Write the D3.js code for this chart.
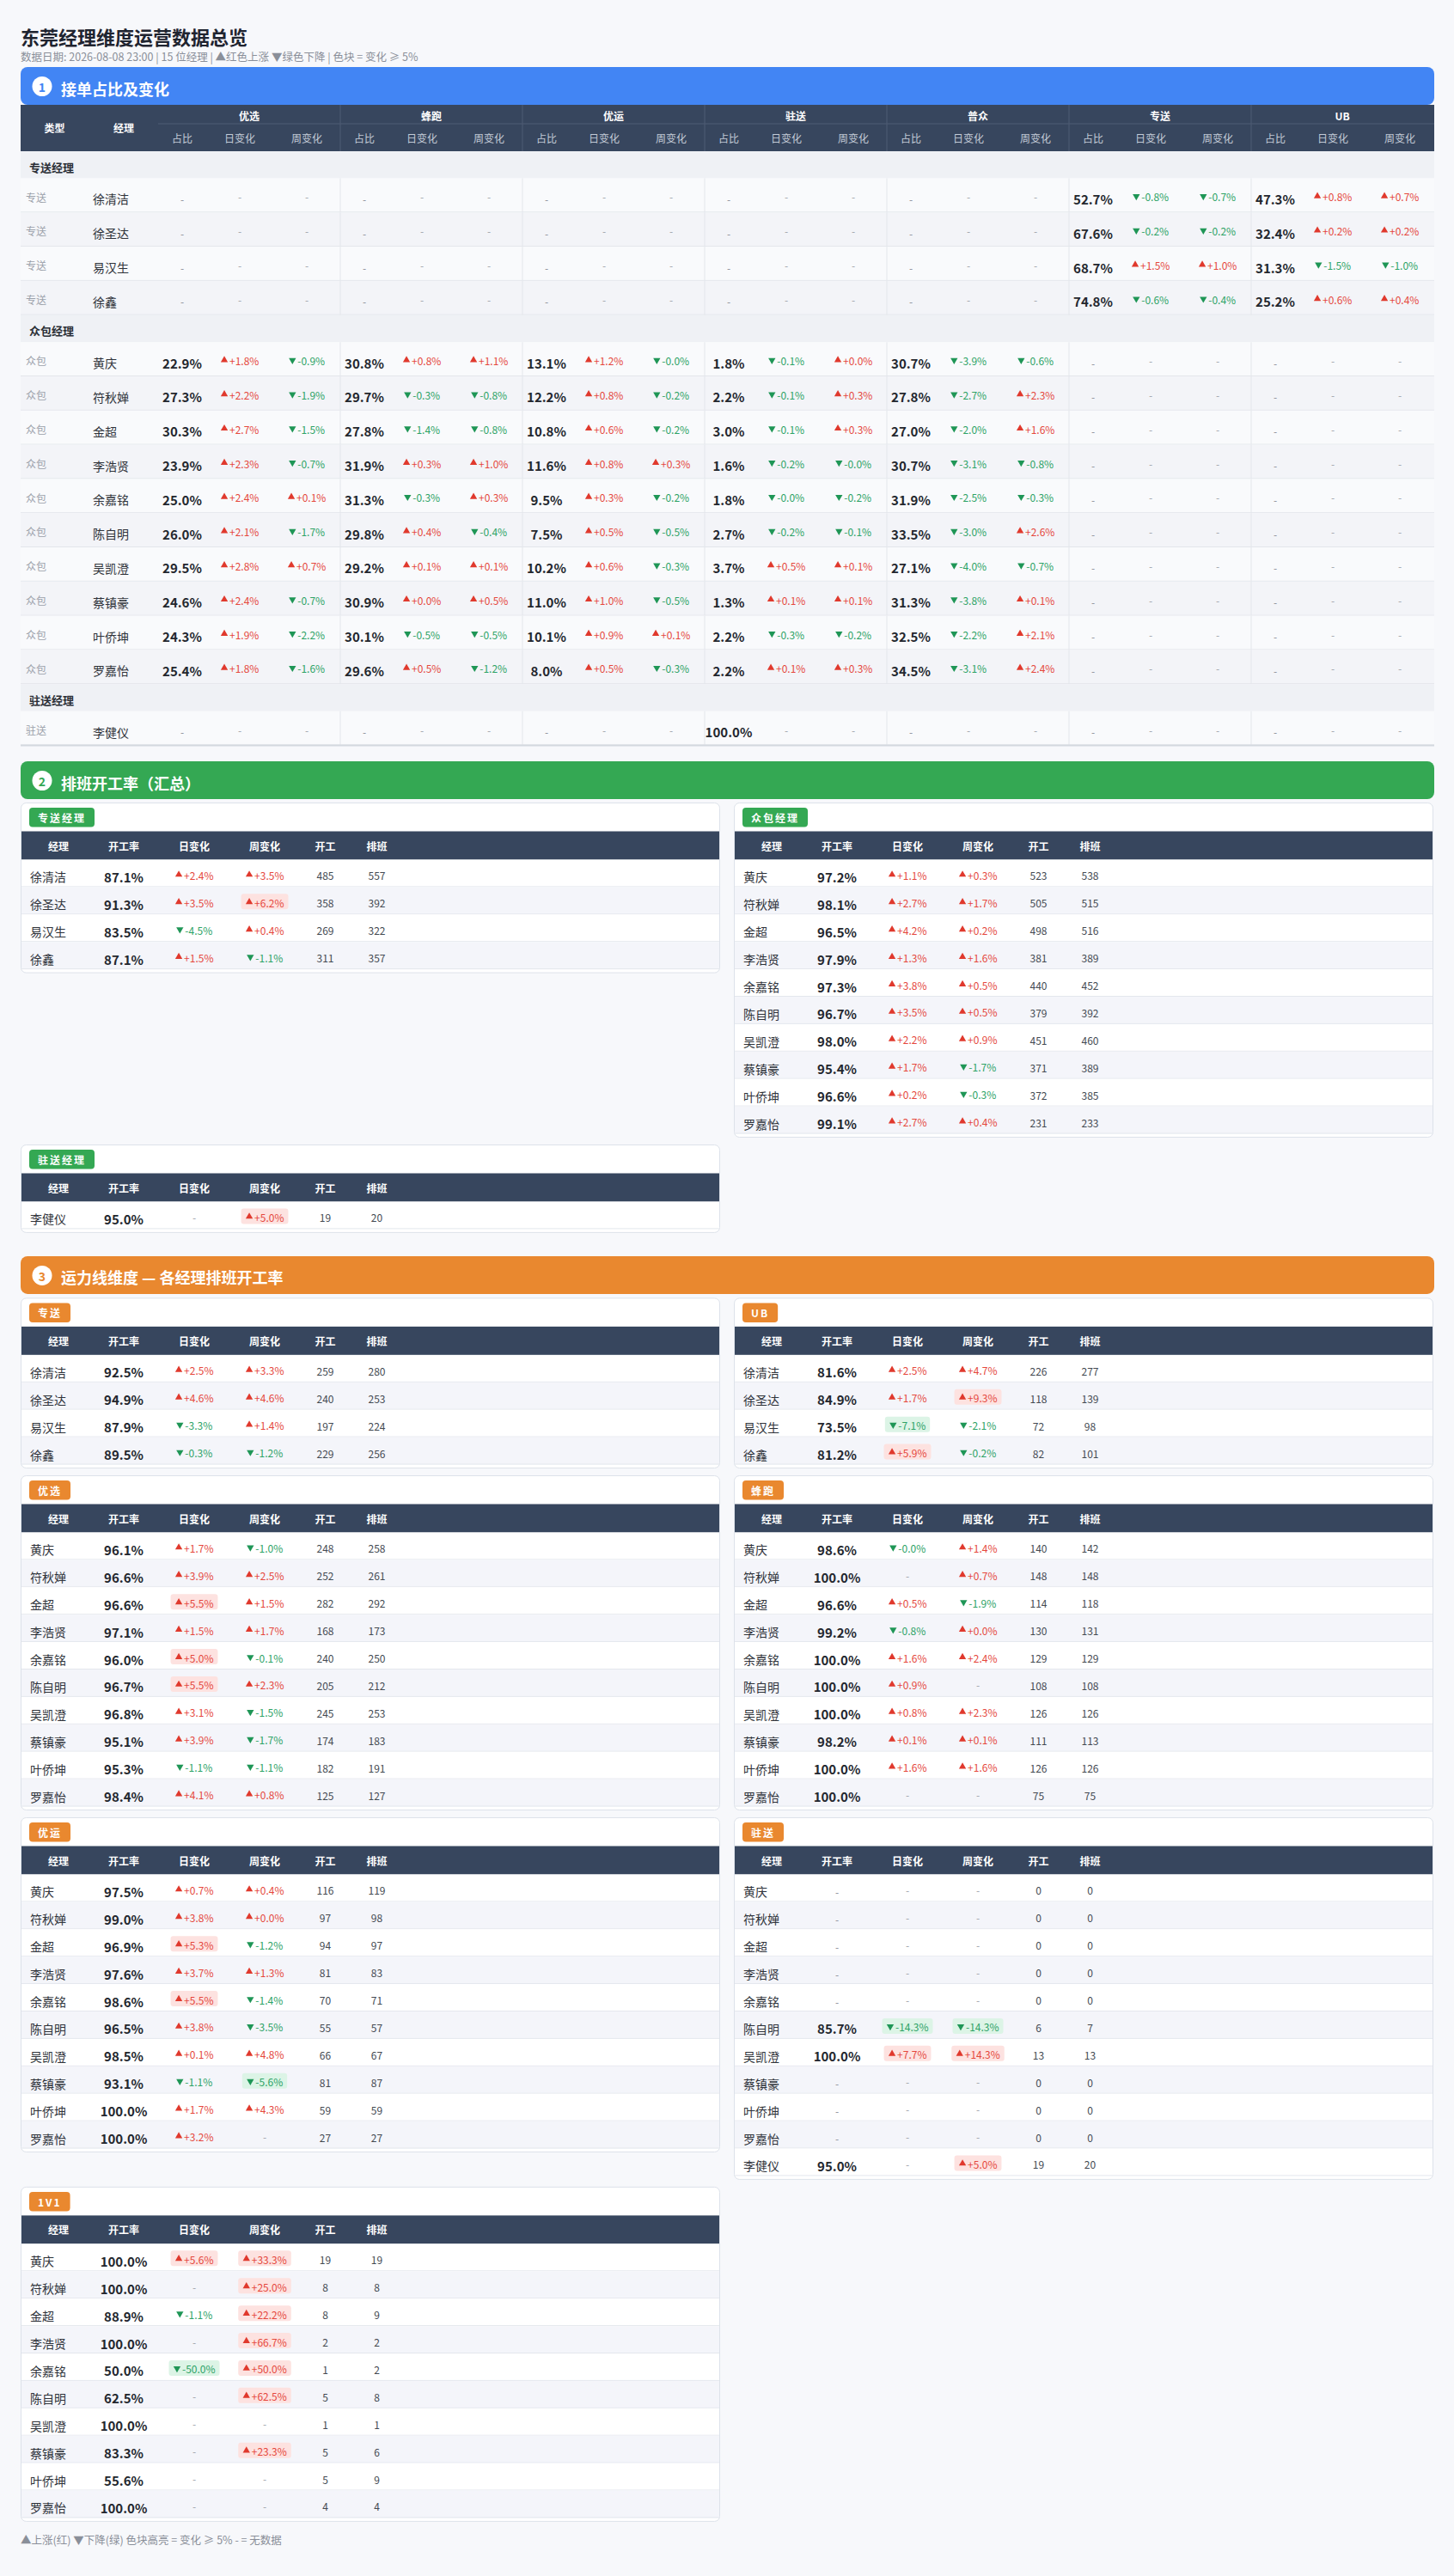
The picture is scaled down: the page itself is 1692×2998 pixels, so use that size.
<!DOCTYPE html>
<html>
<head>
<meta charset="utf-8">
<script src="https://cdn.jsdelivr.net/npm/d3@7"></script>
<style>
  body { margin: 0; background: #f7f8fb; }
  svg { display: block; font-family: "Noto Sans CJK SC", "Noto Sans", sans-serif; }
</style>
</head>
<body>
<script>
// ---------- data ----------
const zsNames = ['徐清洁', '徐圣达', '易汉生', '徐鑫'];
const zbNames = ['黄庆', '符秋婵', '金超', '李浩贤', '余嘉铭', '陈自明', '吴凯澄', '蔡镇豪', '叶侨坤', '罗嘉怡'];
const zhuNames = ['李健仪'];
const zhuLineNames = [...zbNames, '李健仪'];

const lineGroups = ['优选', '蜂跑', '优运', '驻送', '普众', '专送', 'UB'];
const subCols = ['占比', '日变化', '周变化'];
const cardCols = ['经理', '开工率', '日变化', '周变化', '开工', '排班'];

// section 1: [占比, 日变化, 周变化] for the 15 managers (4 专送, 10 众包, 1 驻送); null = no data
const yxRows = [[null, null, null], [null, null, null], [null, null, null], [null, null, null],
  [22.9, 1.8, -0.9], [27.3, 2.2, -1.9], [30.3, 2.7, -1.5], [23.9, 2.3, -0.7], [25.0, 2.4, 0.1],
  [26.0, 2.1, -1.7], [29.5, 2.8, 0.7], [24.6, 2.4, -0.7], [24.3, 1.9, -2.2], [25.4, 1.8, -1.6],
  [null, null, null]];
const fpRows = [[null, null, null], [null, null, null], [null, null, null], [null, null, null],
  [30.8, 0.8, 1.1], [29.7, -0.3, -0.8], [27.8, -1.4, -0.8], [31.9, 0.3, 1.0], [31.3, -0.3, 0.3],
  [29.8, 0.4, -0.4], [29.2, 0.1, 0.1], [30.9, 0.0, 0.5], [30.1, -0.5, -0.5], [29.6, 0.5, -1.2],
  [null, null, null]];
const yyRows = [[null, null, null], [null, null, null], [null, null, null], [null, null, null],
  [13.1, 1.2, -0.0], [12.2, 0.8, -0.2], [10.8, 0.6, -0.2], [11.6, 0.8, 0.3], [9.5, 0.3, -0.2],
  [7.5, 0.5, -0.5], [10.2, 0.6, -0.3], [11.0, 1.0, -0.5], [10.1, 0.9, 0.1], [8.0, 0.5, -0.3],
  [null, null, null]];
const zhuRows = [[null, null, null], [null, null, null], [null, null, null], [null, null, null],
  [1.8, -0.1, 0.0], [2.2, -0.1, 0.3], [3.0, -0.1, 0.3], [1.6, -0.2, -0.0], [1.8, -0.0, -0.2],
  [2.7, -0.2, -0.1], [3.7, 0.5, 0.1], [1.3, 0.1, 0.1], [2.2, -0.3, -0.2], [2.2, 0.1, 0.3],
  [100.0, null, null]];
const pzRows = [[null, null, null], [null, null, null], [null, null, null], [null, null, null],
  [30.7, -3.9, -0.6], [27.8, -2.7, 2.3], [27.0, -2.0, 1.6], [30.7, -3.1, -0.8], [31.9, -2.5, -0.3],
  [33.5, -3.0, 2.6], [27.1, -4.0, -0.7], [31.3, -3.8, 0.1], [32.5, -2.2, 2.1], [34.5, -3.1, 2.4],
  [null, null, null]];
const zsRows = [[52.7, -0.8, -0.7], [67.6, -0.2, -0.2], [68.7, 1.5, 1.0], [74.8, -0.6, -0.4],
  [null, null, null], [null, null, null], [null, null, null], [null, null, null], [null, null, null],
  [null, null, null], [null, null, null], [null, null, null], [null, null, null], [null, null, null],
  [null, null, null]];
const ubRows = [[47.3, 0.8, 0.7], [32.4, 0.2, 0.2], [31.3, -1.5, -1.0], [25.2, 0.6, 0.4],
  [null, null, null], [null, null, null], [null, null, null], [null, null, null], [null, null, null],
  [null, null, null], [null, null, null], [null, null, null], [null, null, null], [null, null, null],
  [null, null, null]];

// sections 2 and 3: [开工率, 日变化, 周变化, 开工, 排班]
const s2Zs = [[87.1, 2.4, 3.5, 485, 557], [91.3, 3.5, 6.2, 358, 392], [83.5, -4.5, 0.4, 269, 322], [87.1, 1.5, -1.1, 311, 357]];
const s2Zb = [[97.2, 1.1, 0.3, 523, 538], [98.1, 2.7, 1.7, 505, 515], [96.5, 4.2, 0.2, 498, 516], [97.9, 1.3, 1.6, 381, 389],
  [97.3, 3.8, 0.5, 440, 452], [96.7, 3.5, 0.5, 379, 392], [98.0, 2.2, 0.9, 451, 460], [95.4, 1.7, -1.7, 371, 389],
  [96.6, 0.2, -0.3, 372, 385], [99.1, 2.7, 0.4, 231, 233]];
const s2Zhu = [[95.0, null, 5.0, 19, 20]];

const s3Zs = [[92.5, 2.5, 3.3, 259, 280], [94.9, 4.6, 4.6, 240, 253], [87.9, -3.3, 1.4, 197, 224], [89.5, -0.3, -1.2, 229, 256]];
const s3Ub = [[81.6, 2.5, 4.7, 226, 277], [84.9, 1.7, 9.3, 118, 139], [73.5, -7.1, -2.1, 72, 98], [81.2, 5.9, -0.2, 82, 101]];
const s3Yx = [[96.1, 1.7, -1.0, 248, 258], [96.6, 3.9, 2.5, 252, 261], [96.6, 5.5, 1.5, 282, 292], [97.1, 1.5, 1.7, 168, 173],
  [96.0, 5.0, -0.1, 240, 250], [96.7, 5.5, 2.3, 205, 212], [96.8, 3.1, -1.5, 245, 253], [95.1, 3.9, -1.7, 174, 183],
  [95.3, -1.1, -1.1, 182, 191], [98.4, 4.1, 0.8, 125, 127]];
const s3Fp = [[98.6, -0.0, 1.4, 140, 142], [100.0, null, 0.7, 148, 148], [96.6, 0.5, -1.9, 114, 118], [99.2, -0.8, 0.0, 130, 131],
  [100.0, 1.6, 2.4, 129, 129], [100.0, 0.9, null, 108, 108], [100.0, 0.8, 2.3, 126, 126], [98.2, 0.1, 0.1, 111, 113],
  [100.0, 1.6, 1.6, 126, 126], [100.0, null, null, 75, 75]];
const s3Yy = [[97.5, 0.7, 0.4, 116, 119], [99.0, 3.8, 0.0, 97, 98], [96.9, 5.3, -1.2, 94, 97], [97.6, 3.7, 1.3, 81, 83],
  [98.6, 5.5, -1.4, 70, 71], [96.5, 3.8, -3.5, 55, 57], [98.5, 0.1, 4.8, 66, 67], [93.1, -1.1, -5.6, 81, 87],
  [100.0, 1.7, 4.3, 59, 59], [100.0, 3.2, null, 27, 27]];
const s3Zhu = [[null, null, null, 0, 0], [null, null, null, 0, 0], [null, null, null, 0, 0], [null, null, null, 0, 0],
  [null, null, null, 0, 0], [85.7, -14.3, -14.3, 6, 7], [100.0, 7.7, 14.3, 13, 13], [null, null, null, 0, 0],
  [null, null, null, 0, 0], [null, null, null, 0, 0], [95.0, null, 5.0, 19, 20]];
const s3One = [[100.0, 5.6, 33.3, 19, 19], [100.0, null, 25.0, 8, 8], [88.9, -1.1, 22.2, 8, 9], [100.0, null, 66.7, 2, 2],
  [50.0, -50.0, 50.0, 1, 2], [62.5, null, 62.5, 5, 8], [100.0, null, null, 1, 1], [83.3, null, 23.3, 5, 6],
  [55.6, null, null, 5, 9], [100.0, null, null, 4, 4]];

// ---------- setup ----------
const W = 1692, H = 2998;
const BLUE = '#4285f4', GREEN = '#34a853', ORANGE = '#e9882f', HEAD = '#37465e';
const UP = '#e5483d', DOWN = '#2ea366';

const svg = d3.select('body').append('svg')
  .attr('width', W).attr('height', H).attr('viewBox', `0 0 ${W} ${H}`);
svg.append('rect').attr('width', W).attr('height', H).attr('fill', '#f7f8fb');

const fmtPct = d3.format('.1f');
const fmtChg = d3.formatLocale({ decimal: '.', thousands: ',', grouping: [3], currency: ['', ''], minus: '-' }).format('+.1f');
const isDown = v => v < 0 || Object.is(v, -0);
const tri = d3.symbol(d3.symbolTriangle, 30);

function txt(parent, x, y, s, o = {}) {
  return parent.append('text')
    .attr('x', x).attr('y', y)
    .attr('dominant-baseline', 'central')
    .attr('text-anchor', o.anchor || 'start')
    .attr('font-size', o.size || 12)
    .attr('font-weight', o.weight || 400)
    .attr('fill', o.fill || '#333')
    .text(s);
}

// arrow + change text, centred on x; boxed when |v| >= 5
function changeCell(parent, x, y, v) {
  if (v == null) {
    txt(parent, x, y, '-', { anchor: 'middle', fill: '#a0a4ab' });
    return;
  }
  const down = isDown(v);
  const cell = parent.append('g');
  const t = txt(cell, 0, y, fmtChg(v) + '%', { fill: down ? DOWN : UP });
  const tw = t.node().getComputedTextLength();
  const aw = 9, gap = 1.5, total = aw + gap + tw, x0 = x - total / 2;
  if (Math.abs(v) >= 5) {
    cell.insert('rect', 'text')
      .attr('x', x0 - 5).attr('y', y - 10).attr('width', total + 10).attr('height', 18)
      .attr('rx', 3).attr('fill', down ? '#dcf4e6' : '#fde2e0');
  }
  cell.append('path')
    .attr('d', tri())
    .attr('transform', `translate(${x0 + aw / 2},${y - 0.5}) rotate(${down ? 180 : 0})`)
    .attr('fill', down ? '#1f9656' : '#e0392d');
  t.attr('x', x0 + aw + gap);
}

function sectionBar(top, num, title, color) {
  svg.append('rect').attr('x', 24).attr('y', top).attr('width', 1645).attr('height', 44)
    .attr('rx', 8).attr('fill', color);
  svg.append('circle').attr('cx', 49).attr('cy', top + 22.5).attr('r', 11.5).attr('fill', '#fff');
  txt(svg, 49, top + 23, num, { anchor: 'middle', size: 14, weight: 700, fill: color });
  txt(svg, 71, top + 24.5, title, { size: 18, weight: 700, fill: '#fff' });
}

// ---------- header ----------
txt(svg, 24, 42, '东莞经理维度运营数据总览', { size: 22, weight: 700, fill: '#1f2430' });
txt(svg, 24, 65, '数据日期: 2026-08-08 23:00 | 15 位经理 | ▲红色上涨 ▼绿色下降 | 色块 = 变化 ≥ 5%', { size: 12.5, fill: '#8a8f99' });

// ---------- section 1 ----------
sectionBar(78, '1', '接单占比及变化', BLUE);

const shareTable = new Map(lineGroups.map((g, i) => [g, [yxRows, fpRows, yyRows, zhuRows, pzRows, zsRows, ubRows][i]]));
const groupX = d3.scaleBand().domain(lineGroups).range([184, 1668]);
const subX = d3.scaleOrdinal().domain(subCols).range([0.132, 0.448, 0.816].map(f => f * groupX.bandwidth()));

const t1 = svg.append('g');
t1.append('rect').attr('x', 24).attr('y', 122).attr('width', 1645).attr('height', 54).attr('fill', HEAD);
t1.append('line').attr('x1', 184).attr('x2', 1669).attr('y1', 144).attr('y2', 144).attr('stroke', '#4e5d74');
txt(t1, 63.5, 148.5, '类型', { anchor: 'middle', weight: 700, fill: '#fff' });
txt(t1, 144, 148.5, '经理', { anchor: 'middle', weight: 700, fill: '#fff' });
lineGroups.forEach((g, i) => {
  const gx = groupX(g);
  if (i > 0) t1.append('line').attr('x1', gx).attr('x2', gx).attr('y1', 122).attr('y2', 176).attr('stroke', '#4e5d74');
  txt(t1, gx + groupX.bandwidth() / 2, 134.5, g, { anchor: 'middle', weight: 700, fill: '#fff' });
  subCols.forEach(s => txt(t1, gx + subX(s), 160, s, { anchor: 'middle', fill: '#c3cbd7' }));
});

const blocks1 = [
  { title: '专送经理', type: '专送', names: zsNames, start: 0 },
  { title: '众包经理', type: '众包', names: zbNames, start: 4 },
  { title: '驻送经理', type: '驻送', names: zhuNames, start: 14 }
];
const layout1 = [];
let yCur = 176;
blocks1.forEach(b => {
  layout1.push({ kind: 'cat', y: yCur, h: 31.5, label: b.title });
  yCur += 31.5;
  b.names.forEach((n, i) => {
    layout1.push({ kind: 'row', y: yCur, h: 39.8, name: n, type: b.type, idx: b.start + i, alt: i % 2 });
    yCur += 39.8;
  });
});

layout1.forEach(r => {
  const g = t1.append('g');
  if (r.kind === 'cat') {
    g.append('rect').attr('x', 24).attr('y', r.y).attr('width', 1645).attr('height', r.h).attr('fill', '#eff1f5');
    txt(g, 34, r.y + r.h / 2 + 2.5, r.label, { size: 13, weight: 700, fill: '#2b2f36' });
    return;
  }
  const cy = r.y + r.h / 2;
  g.append('rect').attr('x', 24).attr('y', r.y).attr('width', 1645).attr('height', r.h)
    .attr('fill', r.alt ? '#f3f4f8' : '#f9fafc');
  g.append('line').attr('x1', 24).attr('x2', 1669).attr('y1', r.y + r.h - 0.5).attr('y2', r.y + r.h - 0.5)
    .attr('stroke', '#e3e6eb');
  txt(g, 30, cy + 1.7, r.type, { fill: '#9ba1aa' });
  txt(g, 108, cy + 4, r.name, { size: 14, fill: '#2f333a' });
  lineGroups.forEach((lg, i) => {
    const gx = groupX(lg);
    if (i > 0) g.append('line').attr('x1', gx).attr('x2', gx).attr('y1', r.y).attr('y2', r.y + r.h).attr('stroke', '#e3e6eb');
    const [share, day, week] = shareTable.get(lg)[r.idx];
    if (share == null) txt(g, gx + subX('占比'), cy + 4, '-', { anchor: 'middle', fill: '#8c9099' });
    else txt(g, gx + subX('占比'), cy + 4, fmtPct(share) + '%', { anchor: 'middle', size: 15, weight: 700, fill: '#23272e' });
    changeCell(g, gx + subX('日变化'), cy + 1.5, day);
    changeCell(g, gx + subX('周变化'), cy + 1.5, week);
  });
});
t1.append('line').attr('x1', 24).attr('x2', 1669).attr('y1', yCur).attr('y2', yCur)
  .attr('stroke', '#d3d8df').attr('stroke-width', 2);

// ---------- cards (sections 2, 3) ----------
const CARD_W = 814, ROW_H = 31.9;
const colX = d3.scaleOrdinal().domain(cardCols).range([44, 120, 202, 284, 354.5, 414.5]);
const colLeft = [24, 854];

function drawCard(x, top, c) {
  const n = c.rows.length;
  const h = 66.5 + n * ROW_H + 4.5;
  const g = svg.append('g');
  g.append('rect').attr('x', x + 0.5).attr('y', top + 0.5).attr('width', CARD_W - 1).attr('height', h - 1)
    .attr('rx', 6).attr('fill', '#fff').attr('stroke', '#dde2ea');

  const badge = g.append('g');
  const bt = txt(badge, x + 10 + 10, top + 17.5, c.label, { weight: 700, fill: '#fff' }).attr('letter-spacing', 2);
  const bw = bt.node().getBBox().width + 20;
  badge.insert('rect', 'text').attr('x', x + 10).attr('y', top + 6).attr('width', bw).attr('height', 22.5)
    .attr('rx', 4).attr('fill', c.color);

  const hy = top + 33.5;
  g.append('rect').attr('x', x + 1).attr('y', hy).attr('width', CARD_W - 2).attr('height', 33).attr('fill', HEAD);
  cardCols.forEach(k => txt(g, x + colX(k), hy + 16.5, k, { anchor: 'middle', weight: 700, fill: '#fff' }));

  const yRow = d3.scaleBand().domain(d3.range(n)).range([hy + 33, hy + 33 + n * ROW_H]);
  c.rows.forEach((r, i) => {
    const ry = yRow(i), cy = ry + ROW_H / 2;
    const [rate, day, week, on, plan] = r;
    g.append('rect').attr('x', x + 1).attr('y', ry).attr('width', CARD_W - 2).attr('height', ROW_H)
      .attr('fill', i % 2 ? '#f4f5fa' : '#fff');
    g.append('line').attr('x1', x + 1).attr('x2', x + CARD_W - 1).attr('y1', ry + ROW_H - 0.5).attr('y2', ry + ROW_H - 0.5)
      .attr('stroke', '#e4e7ed');
    txt(g, x + 11, cy + 4, c.names[i], { size: 14, fill: '#2f333a' });
    if (rate == null) txt(g, x + colX('开工率'), cy + 4, '-', { anchor: 'middle', fill: '#8c9099' });
    else txt(g, x + colX('开工率'), cy + 4, fmtPct(rate) + '%', { anchor: 'middle', size: 15, weight: 700, fill: '#23272e' });
    changeCell(g, x + colX('日变化'), cy + 2, day);
    changeCell(g, x + colX('周变化'), cy + 2, week);
    txt(g, x + colX('开工'), cy + 2.5, on, { anchor: 'middle', fill: '#444a52' });
    txt(g, x + colX('排班'), cy + 2.5, plan, { anchor: 'middle', fill: '#444a52' });
  });
  return h;
}

function grid(cards, top) {
  let y = top;
  for (let i = 0; i < cards.length; i += 2) {
    const hs = cards.slice(i, i + 2).map((c, j) => drawCard(colLeft[j], y, c));
    y += d3.max(hs) + 8;
  }
  return y;
}

// section 2
const s2Top = yCur + 18.5;
sectionBar(s2Top, '2', '排班开工率（汇总）', GREEN);
const s2End = grid([
  { label: '专送经理', names: zsNames, rows: s2Zs, color: GREEN },
  { label: '众包经理', names: zbNames, rows: s2Zb, color: GREEN },
  { label: '驻送经理', names: zhuNames, rows: s2Zhu, color: GREEN }
], s2Top + 48);

// section 3
const s3Top = s2End + 19;
sectionBar(s3Top, '3', '运力线维度 — 各经理排班开工率', ORANGE);
const s3End = grid([
  { label: '专送', names: zsNames, rows: s3Zs, color: ORANGE },
  { label: 'UB', names: zsNames, rows: s3Ub, color: ORANGE },
  { label: '优选', names: zbNames, rows: s3Yx, color: ORANGE },
  { label: '蜂跑', names: zbNames, rows: s3Fp, color: ORANGE },
  { label: '优运', names: zbNames, rows: s3Yy, color: ORANGE },
  { label: '驻送', names: zhuLineNames, rows: s3Zhu, color: ORANGE },
  { label: '1V1', names: zbNames, rows: s3One, color: ORANGE }
], s3Top + 48.5);

// footer
txt(svg, 24, s3End + 13, '▲上涨(红)  ▼下降(绿)  色块高亮 = 变化 ≥ 5%  - = 无数据', { size: 12.5, fill: '#8a8f99' });
</script>
</body>
</html>
